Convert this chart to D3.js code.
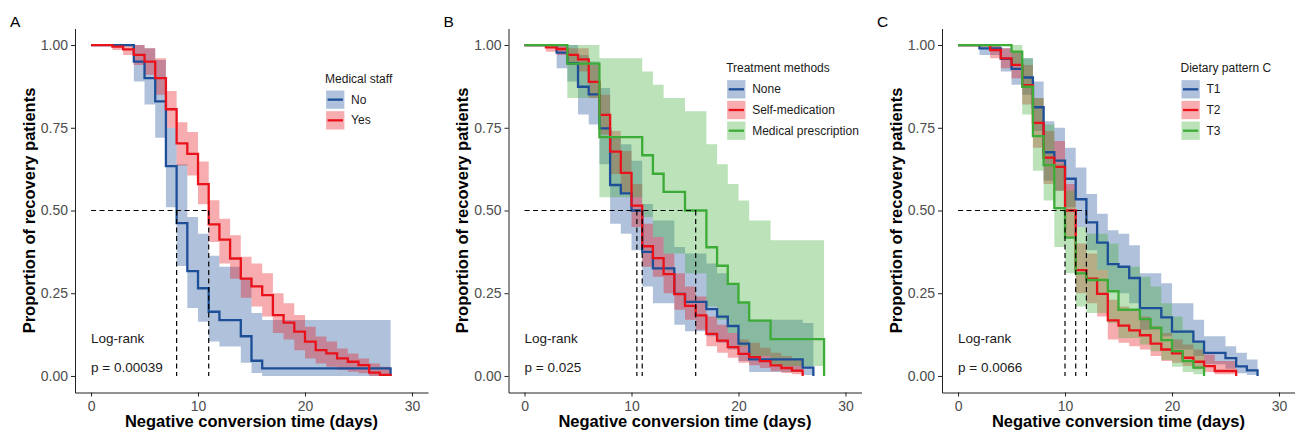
<!DOCTYPE html>
<html>
<head>
<meta charset="utf-8">
<style>
  body { margin:0; background:#fff; }
  svg { font-family: "Liberation Sans", Arial, sans-serif; }
  .axis text { fill:#4d4d4d; font-size:14px; }
  .axis path, .axis line { stroke:#222; }
  .atitle { font-size:16.5px; font-weight:bold; fill:#000; }
  .ltitle, .llab { font-size:12px; fill:#1a1a1a; }
  .note { font-size:13.5px; fill:#1a1a1a; }
  .plabel { font-size:15.5px; fill:#000; }
  .med { stroke:#000; stroke-width:1.2; stroke-dasharray:5,3.5; fill:none; }
  .km { fill:none; stroke-width:2.3; }
</style>
</head>
<body>
<svg width="1295" height="434"></svg>
<script src="https://cdn.jsdelivr.net/npm/d3@7"></script>
<script>

// A: medical staff
var noTime = [0,4,5,6,7,8,9,10,11,12,14,15,16,28]
var noSurv = [1,0.95,0.90,0.83,0.634,0.462,0.317,0.265,0.194,0.169,0.120,0.046,0.023,0]
var noLow  = [1,0.89,0.82,0.72,0.51,0.332,0.205,0.164,0.104,0.089,0.04,0.009,0,0]
var noUp   = [1,1,0.99,0.955,0.75,0.64,0.48,0.43,0.363,0.33,0.295,0.19,0.169,0.169]

var yesTime = [0,2,3,4,5,6,7,8,9,10,11,12,13,14,15,16,17,18,19,20,21,22,23,24,25,26,27,28]
var yesSurv = [1,0.995,0.987,0.97,0.95,0.90,0.806,0.703,0.671,0.58,0.458,0.412,0.355,0.294,0.271,0.244,0.184,0.161,0.134,0.104,0.078,0.068,0.053,0.043,0.033,0.01,0.003,0]
var yesLow  = [1,0.985,0.97,0.94,0.91,0.85,0.75,0.636,0.606,0.519,0.405,0.34,0.294,0.236,0.21,0.18,0.13,0.11,0.078,0.053,0.038,0.028,0.018,0.013,0.008,0,0,0]
var yesUp   = [1,1,1,1,0.99,0.96,0.861,0.767,0.737,0.648,0.531,0.475,0.425,0.36,0.34,0.31,0.25,0.22,0.184,0.149,0.119,0.104,0.083,0.068,0.053,0.038,0.028,0.028]

// B: treatment methods
var noneTime = [0,3,4,5,6,7,8,9,10,11,12,14,15,17,18,19,20,21,26,27]
var noneSurv = [1,0.977,0.945,0.874,0.851,0.748,0.577,0.552,0.50,0.375,0.325,0.248,0.224,0.202,0.179,0.151,0.098,0.05,0.025,0]
var noneLow  = [1,0.93,0.89,0.79,0.76,0.64,0.46,0.43,0.38,0.27,0.22,0.155,0.135,0.12,0.10,0.08,0.045,0.012,0.003,0]
var noneUp   = [1,1,1,0.97,0.95,0.87,0.72,0.70,0.65,0.52,0.47,0.39,0.37,0.34,0.31,0.28,0.22,0.17,0.16,0.16]

var selfTime = [0,2,3,4,5,6,7,8,9,10,11,12,13,14,15,16,17,18,19,20,21,22,23,24,25,26]
var selfSurv = [1,0.993,0.988,0.97,0.957,0.889,0.789,0.678,0.614,0.515,0.392,0.356,0.308,0.247,0.212,0.183,0.127,0.107,0.087,0.067,0.057,0.045,0.032,0.024,0.016,0]
var selfLow  = [1,0.98,0.97,0.94,0.92,0.84,0.73,0.61,0.55,0.45,0.33,0.30,0.25,0.20,0.17,0.14,0.09,0.07,0.055,0.04,0.032,0.024,0.014,0.009,0.005,0]
var selfUp   = [1,1,1,0.99,0.99,0.94,0.85,0.74,0.68,0.58,0.46,0.42,0.37,0.31,0.27,0.24,0.18,0.155,0.13,0.11,0.10,0.085,0.07,0.06,0.05,0.05]

var rxTime = [0,4,7,11,12,13,15,17,18,19,20,21,23,28]
var rxSurv = [1,0.944,0.722,0.667,0.611,0.556,0.5,0.389,0.333,0.278,0.222,0.167,0.111,0]
var rxLow  = [1,0.84,0.54,0.48,0.42,0.37,0.31,0.21,0.17,0.13,0.09,0.06,0.03,0.03]
var rxUp   = [1,1,0.96,0.92,0.88,0.84,0.80,0.70,0.64,0.58,0.53,0.47,0.41,0.41]

// C: dietary pattern
var t1Time = [0,2,4,5,6,7,8,9,10,11,12,13,14,15,16,17,19,20,22,23,25,26,27,28]
var t1Surv = [1,0.99,0.958,0.928,0.902,0.812,0.676,0.651,0.596,0.534,0.464,0.403,0.338,0.33,0.296,0.205,0.177,0.134,0.104,0.07,0.054,0.029,0.017,0]
var t1Low  = [1,0.97,0.92,0.88,0.85,0.74,0.59,0.56,0.51,0.45,0.38,0.32,0.26,0.25,0.22,0.14,0.12,0.08,0.06,0.035,0.022,0.008,0.003,0]
var t1Up   = [1,1,0.99,0.98,0.96,0.89,0.77,0.75,0.69,0.63,0.55,0.49,0.44,0.43,0.395,0.31,0.28,0.22,0.17,0.12,0.09,0.07,0.05,0.05]

var t2Time = [0,3,4,5,6,7,8,9,10,11,12,13,14,15,16,17,18,19,20,21,22,23,24,26]
var t2Surv = [1,0.985,0.96,0.94,0.879,0.765,0.66,0.632,0.50,0.32,0.294,0.248,0.168,0.152,0.138,0.123,0.098,0.08,0.068,0.055,0.043,0.03,0.015,0]
var t2Low  = [1,0.96,0.93,0.90,0.82,0.69,0.58,0.56,0.42,0.25,0.22,0.18,0.11,0.10,0.09,0.08,0.06,0.045,0.04,0.03,0.02,0.012,0.005,0]
var t2Up   = [1,1,0.99,0.98,0.94,0.84,0.74,0.71,0.58,0.40,0.37,0.32,0.23,0.21,0.20,0.18,0.15,0.13,0.11,0.095,0.08,0.065,0.045,0.045]

var t3Time = [0,5,6,7,8,9,10,11,12,14,15,17,18,19,20,21,22,23]
var t3Surv = [1,0.98,0.874,0.725,0.637,0.507,0.418,0.31,0.29,0.256,0.2,0.172,0.145,0.108,0.075,0.045,0.025,0]
var t3Low  = [1,0.94,0.79,0.62,0.53,0.39,0.31,0.21,0.19,0.16,0.115,0.095,0.075,0.048,0.028,0.012,0.005,0]
var t3Up   = [1,1,0.96,0.84,0.76,0.64,0.56,0.45,0.43,0.40,0.33,0.30,0.27,0.22,0.18,0.14,0.10,0.10]

var medianA = [8, 11], medianB = [10.5, 11, 16], medianC = [10, 11, 12]
var xTicks = [0, 10, 20, 30]
var yTicks = [0, 0.25, 0.5, 0.75, 1]

var blue = "#1c4f98", red = "#e9121b", green = "#3dab37"

var panels = [
  {letter:"A", title:"Medical staff", p:"p = 0.00039", medians:medianA, groups:[
    {name:"No", color:blue, time:noTime, surv:noSurv, low:noLow, up:noUp},
    {name:"Yes", color:red, time:yesTime, surv:yesSurv, low:yesLow, up:yesUp}]},
  {letter:"B", title:"Treatment methods", p:"p = 0.025", medians:medianB, groups:[
    {name:"None", color:blue, time:noneTime, surv:noneSurv, low:noneLow, up:noneUp},
    {name:"Self-medication", color:red, time:selfTime, surv:selfSurv, low:selfLow, up:selfUp},
    {name:"Medical prescription", color:green, time:rxTime, surv:rxSurv, low:rxLow, up:rxUp}]},
  {letter:"C", title:"Dietary pattern C", p:"p = 0.0066", medians:medianC, groups:[
    {name:"T1", color:blue, time:t1Time, surv:t1Surv, low:t1Low, up:t1Up},
    {name:"T2", color:red, time:t2Time, surv:t2Surv, low:t2Low, up:t2Up},
    {name:"T3", color:green, time:t3Time, surv:t3Surv, low:t3Low, up:t3Up}]}
]

var svg = d3.select("svg")

var x = d3.scaleLinear().domain([-1.5, 31.5]).range([75, 428])
var y = d3.scaleLinear().domain([-0.05, 1.05]).range([392.5, 28.5])

function rows(s) {
  return s.time.map(function(t, k) { return {t:t, s:s.surv[k], lo:s.low[k], hi:s.up[k]} })
}

var band = d3.area().curve(d3.curveStepAfter)
  .x(function(d) { return x(d.t) })
  .y0(function(d) { return y(d.lo) })
  .y1(function(d) { return y(d.hi) })

var km = d3.line().curve(d3.curveStepAfter)
  .x(function(d) { return x(d.t) })
  .y(function(d) { return y(d.s) })

function drawPanel(p, i) {
  var g = svg.append("g").attr("transform", "translate(" + (i * 433.5) + ",0)")

  g.selectAll(".band").data(p.groups).enter().append("path")
    .attr("class", "band")
    .attr("d", function(d) { return band(rows(d)) })
    .attr("fill", function(d) { return d.color })
    .attr("fill-opacity", 0.35)

  g.selectAll(".km").data(p.groups).enter().append("path")
    .attr("class", "km")
    .attr("d", function(d) { return km(rows(d)) })
    .attr("stroke", function(d) { return d.color })

  //median lines
  g.append("line").attr("class", "med")
    .attr("x1", x(0)).attr("x2", x(d3.max(p.medians)))
    .attr("y1", y(0.5)).attr("y2", y(0.5))
  g.selectAll(".vmed").data(p.medians).enter().append("line")
    .attr("class", "med")
    .attr("x1", function(d) { return x(d) }).attr("x2", function(d) { return x(d) })
    .attr("y1", y(0.5)).attr("y2", y(0))

  g.append("g").attr("class", "axis")
    .attr("transform", "translate(0,392.5)")
    .call(d3.axisBottom(x).tickValues(xTicks).tickSize(4).tickSizeOuter(0).tickPadding(5))
  g.append("g").attr("class", "axis")
    .attr("transform", "translate(75,0)")
    .call(d3.axisLeft(y).tickValues(yTicks).tickFormat(d3.format(".2f")).tickSize(4).tickSizeOuter(0).tickPadding(3))

  g.append("text").attr("class", "atitle")
    .attr("x", 251.5).attr("y", 427).attr("text-anchor", "middle")
    .text("Negative conversion time (days)")
  g.append("text").attr("class", "atitle")
    .attr("transform", "translate(34.5," + y(0.5) + ") rotate(-90)")
    .attr("text-anchor", "middle")
    .text("Proportion of recovery patients")

  g.append("text").attr("class", "plabel").attr("x", 10).attr("y", 27).text(p.letter)

  g.append("text").attr("class", "note").attr("x", x(0)).attr("y", 342.5).text("Log-rank")
  g.append("text").attr("class", "note").attr("x", x(0)).attr("y", 371.5).text(p.p)

  // legend, centred inside the panel
  var lg = g.append("g")
  lg.append("text").attr("class", "ltitle").attr("x", 0).attr("y", 9).text(p.title)
  var item = lg.selectAll(".item").data(p.groups).enter().append("g")
    .attr("transform", function(d, k) { return "translate(1," + (17 + k * 20.7) + ")" })
  item.append("rect").attr("width", 18.3).attr("height", 18.3)
    .attr("fill", function(d) { return d.color }).attr("fill-opacity", 0.35)
  item.append("line").attr("x1", 1.5).attr("x2", 16.8).attr("y1", 9.15).attr("y2", 9.15)
    .attr("stroke", function(d) { return d.color }).attr("stroke-width", 2.3)
  item.append("text").attr("class", "llab").attr("x", 25).attr("y", 13.3)
    .text(function(d) { return d.name })
  var bb = lg.node().getBBox()
  lg.attr("transform", "translate(" + (359 - bb.width / 2) + "," + (101.5 - (17 + p.groups.length * 20.7 - 2.4) / 2) + ")")
}

panels.forEach(drawPanel)

</script>
</body>
</html>
